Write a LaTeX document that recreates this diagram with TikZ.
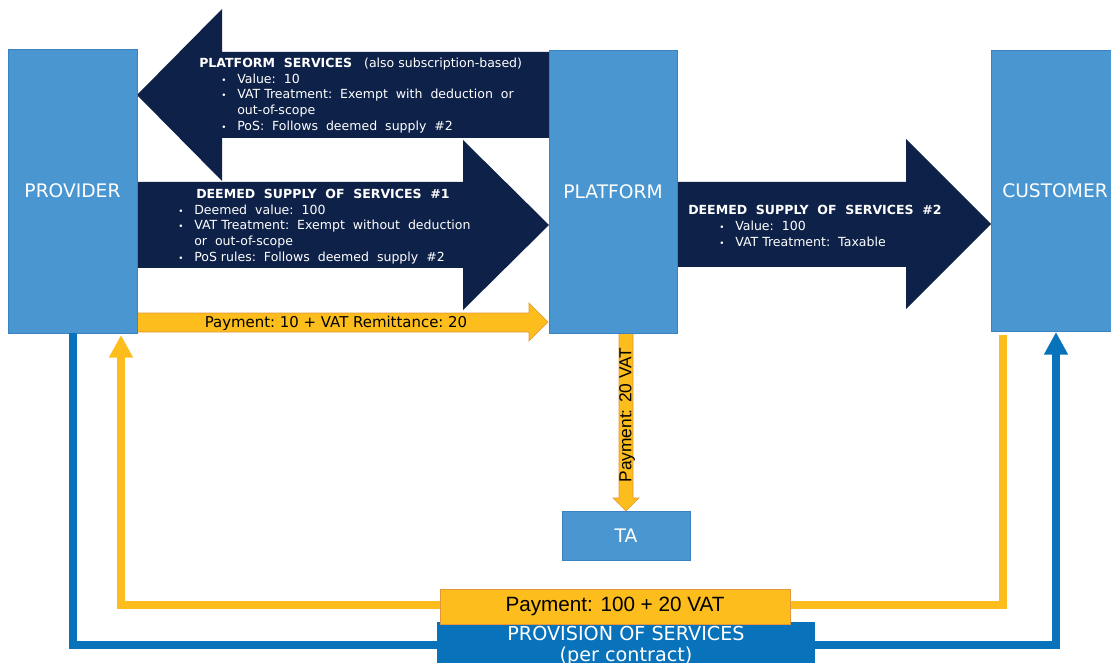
\documentclass[tikz,border=0pt]{standalone}
\usepackage{fontspec}
\setmainfont{DejaVu Sans}
\newfontfamily\arialfont{Liberation Sans}
\usetikzlibrary{arrows.meta}
\definecolor{navy}{HTML}{0E2148}
\definecolor{boxblue}{HTML}{4A96D0}
\definecolor{boxedge}{HTML}{3A82C2}
\definecolor{payyellow}{HTML}{FDBD1C}
\definecolor{payedge}{HTML}{E3963A}
\definecolor{provblue}{HTML}{0872BA}
\newcommand{\bitem}[1]{\makebox[12pt][l]{\scalebox{0.7}{\textbullet}}#1}
\begin{document}
\begin{tikzpicture}[x=0.75pt,y=-0.75pt,
  party/.style={draw=boxedge, fill=boxblue, text=white, inner sep=0pt, font=\fontsize{14}{17}\selectfont},
  flow/.style={fill=navy},
  flowtext/.style={text=white, align=left, inner sep=0pt, font=\fontsize{9.4}{11.8}\selectfont},
  payflow/.style={fill=payyellow, draw=payedge, line width=0.5pt},
  payline/.style={draw=payyellow, line width=6pt, -{Triangle[width=17pt,length=17pt]}},
  provline/.style={draw=provblue, line width=6pt, -{Triangle[width=17pt,length=17pt]}}]
\useasboundingbox (0,0) rectangle (1111,663);

\fill[flow] (549,52) -- (222,52) -- (222,9) -- (137,95) -- (222,181) -- (222,138) -- (549,138) -- cycle;
\fill[flow] (137,182) -- (463,182) -- (463,140) -- (549,225) -- (463,310) -- (463,268) -- (137,268) -- cycle;
\fill[flow] (677,182) -- (906,182) -- (906,139) -- (991,224) -- (906,309) -- (906,267) -- (677,267) -- cycle;
\filldraw[payflow] (137,313) -- (529,313) -- (529,303) -- (548,322) -- (529,341) -- (529,332) -- (137,332) -- cycle;
\filldraw[payflow] (619,333) -- (633,333) -- (633,498) -- (639,498) -- (626,511) -- (613,498) -- (619,498) -- cycle;

\node [party, minimum width=96.75pt, minimum height=213pt] (prov) at (72.5,191) {PROVIDER};
\node [party, minimum width=96pt, minimum height=212.25pt] (plat) at (613,191.5) {PLATFORM};
\node [party, minimum width=96pt, minimum height=210.75pt] (cust) at (1055,190.5) {CUSTOMER};
\node [party, minimum width=96pt, minimum height=36.75pt] (ta) at (626,535.5) {TA};

\node [flowtext, anchor=west] (t1) at (199,95.5) {\textbf{PLATFORM\ \ SERVICES}\ \ \ (also subscription-based)\\
\hspace*{16.5pt}\bitem{Value:\ \ 10}\\
\hspace*{16.5pt}\bitem{VAT Treatment:\ \ Exempt\ \ with\ \ deduction\ \ or}\\
\hspace*{28.5pt}out-of-scope\\
\hspace*{16.5pt}\bitem{PoS:\ \ Follows\ \ deemed\ \ supply\ \ \#2}};
\node [flowtext, anchor=west] (t2) at (178,226.5) {\hspace*{13.5pt}\textbf{DEEMED\ \ SUPPLY\ \ OF\ \ SERVICES\ \ \#1}\\
\bitem{Deemed\ \ value:\ \ 100}\\
\bitem{VAT Treatment:\ \ Exempt\ \ without\ \ deduction}\\
\hspace*{12pt}or\ \ out-of-scope\\
\bitem{PoS rules:\ \ Follows\ \ deemed\ \ supply\ \ \#2}};
\node [flowtext, anchor=west] (t3) at (688,226) {\textbf{DEEMED\ \ SUPPLY\ \ OF\ \ SERVICES\ \ \#2}\\
\hspace*{23.25pt}\bitem{Value:\ \ 100}\\
\hspace*{23.25pt}\bitem{VAT Treatment:\ \ Taxable}};

\node [font=\fontsize{11.2}{13}\selectfont, inner sep=0pt] (p1) at (336,323) {Payment:\ 10 + VAT Remittance:\ 20};
\node [font=\arialfont\fontsize{13}{15}\selectfont, rotate=90, inner sep=0pt] (p2) at (627,415) {Payment: 20 VAT};

\coordinate (c1) at (1003,335);
\coordinate (c2) at (121,605);
\coordinate (c3) at (121,335);
\coordinate (c4) at (1056,645);
\coordinate (c5) at (1056,332);
\draw[provline] (prov.south) |- (c4) -- (c5);
\draw[payline] (c1) |- (c2) -- (c3);

\node [fill=provblue, minimum width=283.5pt, minimum height=51pt, inner sep=0pt] (prv) at (626,656) {};
\node [text=white, align=center, inner sep=0pt, font=\fontsize{14.4}{15.75}\selectfont] (prvtext) at (626,646) {PROVISION OF SERVICES\\(per contract)};
\node [fill=payyellow, draw=payedge, minimum width=262.5pt, minimum height=26.25pt, inner sep=0pt, font=\arialfont\fontsize{15.5}{17}\selectfont] (pay) at (615,606.5) {Payment: 100 + 20 VAT};
\end{tikzpicture}
\end{document}
